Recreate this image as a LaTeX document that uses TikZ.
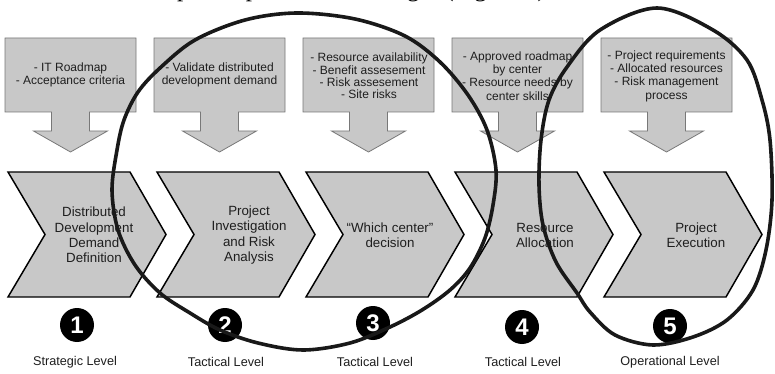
\documentclass[tikz,border=0pt]{standalone}
\usepackage{fontspec}
\setmainfont{Liberation Sans}
\newfontfamily\bodyserif{Liberation Serif}
\definecolor{boxgray}{RGB}{200,200,200}
\definecolor{boxedge}{RGB}{120,120,120}
\definecolor{txtgray}{RGB}{30,30,30}
\begin{document}
\begin{tikzpicture}[x=0.75pt,y=-0.75pt,
 boxshape/.style={fill=boxgray, draw=boxedge, line width=0.6pt, line join=miter},
 boxtext/.style={align=center, font=\fontsize{9}{10}\selectfont, text=txtgray, inner sep=0pt},
 chev/.style={fill=boxgray, draw=black, line width=1.1pt, line join=miter},
 chevtext/.style={align=center, font=\fontsize{10}{11.6}\selectfont, text=txtgray, inner sep=0pt},
 numcirc/.style={circle, fill=black, minimum size=25.5pt, inner sep=0pt, text=white, font=\fontsize{18}{18}\selectfont\bfseries},
 lvl/.style={font=\fontsize{9.5}{11}\selectfont, text=txtgray, inner sep=0pt},
 ringline/.style={draw=black!90, line width=2.7pt, line join=round}
]
\useasboundingbox (0,0) rectangle (775,374);
\fill[white] (0,0) rectangle (775,374);
\begin{scope}
\clip (0,0) rectangle (775,374);
\node[anchor=base west, inner sep=0pt, font=\bodyserif\fontsize{18.75}{20}\selectfont] (topline) at (18,-3) {software development process was sought (Figure 3).};
\end{scope}

% callout boxes with down arrows
\foreach \i in {0,...,4} {
  \pgfmathsetmacro\bx{5+149*\i}
  \pgfmathsetmacro\cx{\bx+65.5}
  \draw[boxshape] (\bx,38) -- (\bx+131,38) -- (\bx+131,112) -- (\cx+19,112) -- (\cx+19,131) -- (\cx+37,131) -- (\cx,152) -- (\cx-37,131) -- (\cx-19,131) -- (\cx-19,112) -- (\bx,112) -- cycle;
}
% chevrons
\foreach \i in {0,...,4} {
  \pgfmathsetmacro\hx{8+149*\i}
  \draw[chev] (\hx,172) -- (\hx+122,172) -- (\hx+158,234.5) -- (\hx+122,297) -- (\hx,297) -- (\hx+37,234.5) -- cycle;
}

\node[boxtext] (b1) at (70.5,75) {- IT Roadmap\\- Acceptance criteria};
\node[boxtext] (b2) at (219.5,75) {- Validate distributed\\development demand};
\node[boxtext, font=\fontsize{9}{9.2}\selectfont] (b3) at (369,76) {- Resource availability\\- Benefit assesement\\- Risk assesement\\- Site risks};
\node[boxtext] (b4) at (517.5,76) {- Approved roadmap\\by center\\- Resource needs by\\center skills};
\node[boxtext] (b5) at (666.5,76) {- Project requirements\\- Allocated resources\\- Risk management\\process};

\node[chevtext] (c1) at (94,235) {Distributed\\Development\\Demand\\Definition};
\node[chevtext] (c2) at (249,235) {Project\\Investigation\\and Risk\\Analysis};
\node[chevtext] (c3) at (390,235.5) {``Which center''\\decision};
\node[chevtext] (c4) at (545,235.5) {Resource\\Allocation};
\node[chevtext] (c5) at (696,235.5) {Project\\Execution};

\node[numcirc] (n1) at (77,325) {1};
\node[numcirc] (n2) at (225,325) {2};
\node[numcirc] (n3) at (373,323) {3};
\node[numcirc] (n4) at (522,327) {4};
\node[numcirc] (n5) at (670,326) {5};

\node[lvl] (l1) at (75,362) {Strategic Level};
\node[lvl] (l2) at (226,362) {Tactical Level};
\node[lvl] (l3) at (375,362) {Tactical Level};
\node[lvl] (l4) at (523,362) {Tactical Level};
\node[lvl] (l5) at (670,362) {Operational Level};

% hand-drawn rings
\draw[ringline] plot[smooth cycle, tension=0.55] coordinates {
 (297,13) (355,19) (405,36) (440,62) (468,95) (487,130) (496,170) (493,205)
 (485,238) (470,268) (450,290) (422,310) (390,327) (350,343) (303,350) (258,343)
 (220,330) (190,313) (160,293) (135,265) (118,230) (112,190) (117,150) (124,120)
 (138,92) (160,68) (195,40) (245,20)};
\draw[ringline] plot[smooth cycle, tension=0.55] coordinates {
 (657,8) (713,30) (747,60) (762,100) (770,140) (772,200) (766,250) (753,290)
 (727,320) (693,337) (653,345) (615,335) (590,312) (577,293) (556,262) (543,225)
 (539,185) (541,140) (549,100) (567,67) (600,30)};
\end{tikzpicture}
\end{document}
